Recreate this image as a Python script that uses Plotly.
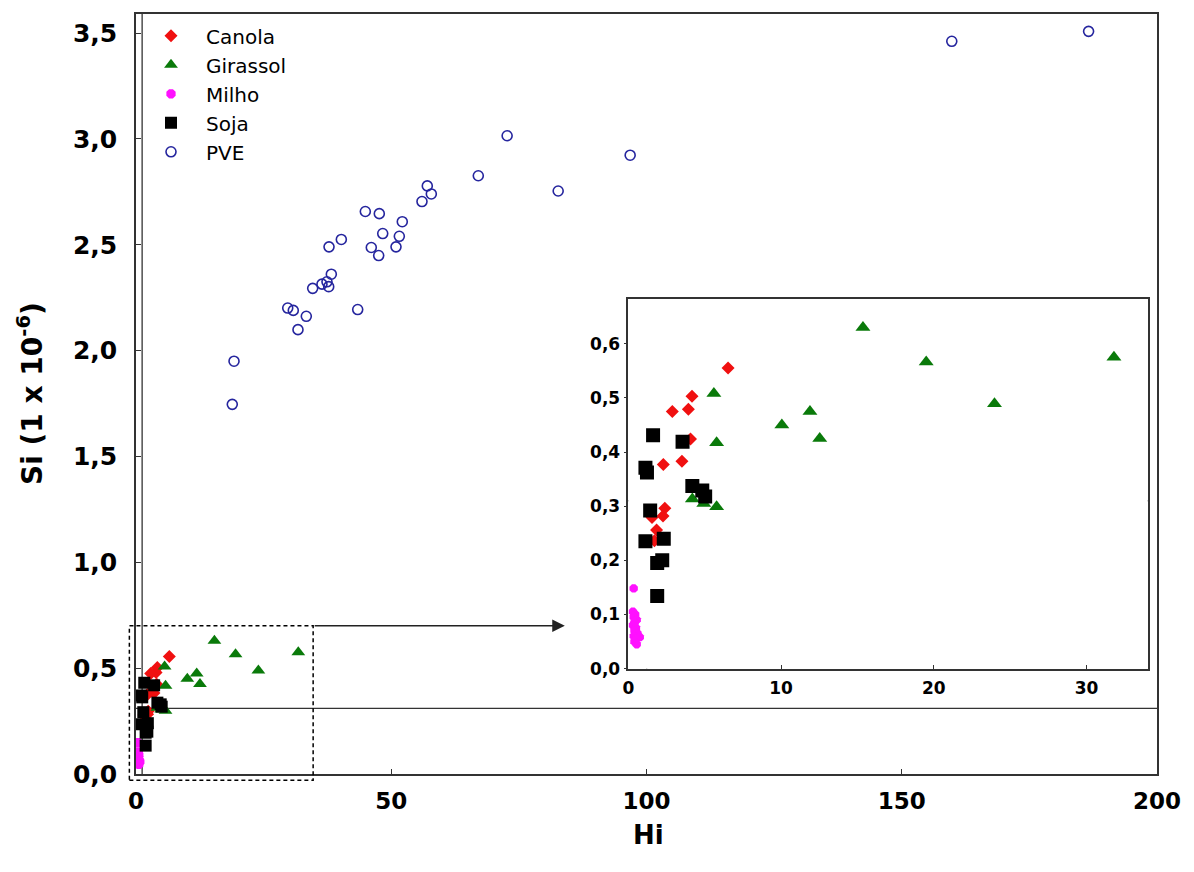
import plotly.graph_objects as go

# ---------------- data ----------------
canola_hi = [6.53, 4.17, 3.93, 2.88, 4.07, 3.51, 2.29, 2.39, 2.27, 1.55, 1.85, 1.71]
canola_si = [0.555, 0.503, 0.479, 0.475, 0.424, 0.383, 0.377, 0.296, 0.282, 0.279, 0.256, 0.236]

girassol_hi = [15.36, 19.50, 31.79, 23.97, 5.60, 11.89, 10.05, 12.53, 5.78, 4.19, 4.94, 5.78]
girassol_si = [0.630, 0.566, 0.575, 0.489, 0.508, 0.475, 0.450, 0.425, 0.417, 0.313, 0.305, 0.299]

milho_hi = [0.35, 0.30, 0.45, 0.35, 0.55, 0.40, 0.30, 0.50, 0.40, 0.60, 0.35, 0.75, 0.50, 0.40, 0.55]
milho_si = [0.148, 0.105, 0.100, 0.095, 0.090, 0.085, 0.080, 0.075, 0.070, 0.065, 0.060, 0.058, 0.055, 0.050, 0.045]

soja_hi = [1.62, 3.55, 1.12, 1.22, 4.19, 4.84, 5.03, 1.43, 1.12, 2.32, 1.89, 2.22, 1.89]
soja_si = [0.431, 0.419, 0.371, 0.362, 0.337, 0.329, 0.318, 0.292, 0.235, 0.240, 0.195, 0.200, 0.134]

pve_hi = [72.7, 67.05, 57.06, 57.85, 56.02, 44.92, 47.66, 52.16, 48.33, 51.58, 40.22, 37.81,
          50.93, 46.09, 47.54, 38.26, 37.41, 36.43, 37.75, 34.61, 29.72, 30.81, 33.36, 43.43,
          31.73, 19.20, 18.86, 96.8, 82.7, 159.8, 186.6]
pve_si = [3.015, 2.826, 2.778, 2.740, 2.704, 2.657, 2.647, 2.609, 2.553, 2.540, 2.525, 2.490,
          2.490, 2.487, 2.449, 2.361, 2.325, 2.314, 2.302, 2.294, 2.201, 2.190, 2.162, 2.194,
          2.099, 1.950, 1.746, 2.923, 2.754, 3.461, 3.508]

HI_REF = 1.2      # vertical reference line
SI_REF = 0.31     # horizontal reference line

MAIN_X = [0, 200]
MAIN_Y = [0, 3.59]
INSET_X = [0, 34]
INSET_Y = [0, 0.683]
ZOOM_BOX_X = [-1.3, 34.7]
ZOOM_BOX_Y = [-0.03, 0.70]
ARROW_END_X = 84

main_xticks = [0, 50, 100, 150, 200]
main_yticks = [0, 0.5, 1.0, 1.5, 2.0, 2.5, 3.0, 3.5]
inset_xticks = [0, 10, 20, 30]
inset_yticks = [0, 0.1, 0.2, 0.3, 0.4, 0.5, 0.6]

# ---------------- style ----------------
FONT = "DejaVu Sans"
RED = "#f01010"
GREEN = "#0a7a0a"
MAG = "#ff10ff"
BLACK = "#000000"
BLUE = "#25259e"
AX = "#333333"

series = [
    ("Canola", canola_hi, canola_si, dict(symbol="diamond", color=RED, size=10), dict(size=10)),
    ("Girassol", girassol_hi, girassol_si, dict(symbol="triangle-up", color=GREEN, size=12), dict(size=13)),
    ("Milho", milho_hi, milho_si, dict(symbol="octagon", color=MAG, size=10), dict(size=9)),
    ("Soja", soja_hi, soja_si, dict(symbol="square", color=BLACK, size=12), dict(size=14)),
]

fig = go.Figure()
for name, xs, ys, mk, mk_in in series:
    fig.add_trace(go.Scatter(x=xs, y=ys, mode="markers", name=name,
                             marker=dict(symbol=mk["symbol"], color=mk["color"], size=mk["size"], line=dict(width=0)),
                             xaxis="x", yaxis="y"))
fig.add_trace(go.Scatter(x=pve_hi, y=pve_si, mode="markers", name="PVE",
                         marker=dict(symbol="circle-open", color=BLUE, size=10, line=dict(width=1.6, color=BLUE)),
                         xaxis="x", yaxis="y"))
for name, xs, ys, mk, mk_in in series:
    fig.add_trace(go.Scatter(x=xs, y=ys, mode="markers", name=name, showlegend=False,
                             marker=dict(symbol=mk["symbol"], color=mk["color"], size=mk_in["size"], line=dict(width=0)),
                             xaxis="x2", yaxis="y2"))

axis_common = dict(showgrid=False, zeroline=False, showline=True, mirror=True,
                   linecolor=AX, linewidth=1.5, tickcolor=AX)

fig.update_layout(
    width=1194, height=872,
    margin=dict(l=136, r=37, t=12, b=98),
    paper_bgcolor="white", plot_bgcolor="white",
    separators=",.",
    font=dict(family=FONT, color="black"),
    xaxis=dict(range=MAIN_X, tickvals=main_xticks, ticks="inside", ticklen=5, domain=[0, 1],
               ticklabelstandoff=6,
               tickfont=dict(family=FONT, size=23, weight="bold"), anchor="y", **axis_common),
    yaxis=dict(range=MAIN_Y, tickvals=main_yticks, tickformat=".1f", ticks="inside", ticklen=5,
               domain=[0, 1], ticklabelstandoff=12,
               tickfont=dict(family=FONT, size=25, weight="bold"), anchor="x", **axis_common),
    xaxis2=dict(range=INSET_X, tickvals=inset_xticks, ticks="inside", ticklen=4,
                domain=[0.4822, 0.9909], anchor="y2", ticklabelstandoff=3,
                tickfont=dict(family=FONT, size=17, weight="bold"), **axis_common),
    yaxis2=dict(range=INSET_Y, tickvals=inset_yticks, tickformat=".1f", ticks="outside", ticklen=3,
                domain=[0.1387, 0.6253], anchor="x2",
                tickfont=dict(family=FONT, size=17, weight="bold"), **axis_common),
    legend=dict(x=0.0, y=0.997, xanchor="left", yanchor="top", bgcolor="rgba(0,0,0,0)",
                font=dict(family=FONT, size=20, color="black"), itemwidth=60,
                tracegroupgap=0),
    showlegend=True,
)

# reference lines (main + inset)
line_style = dict(color=AX, width=1.3)
fig.add_shape(type="line", xref="x", yref="y domain", x0=HI_REF, x1=HI_REF, y0=0, y1=1, line=line_style, layer="below")
fig.add_shape(type="line", xref="x domain", yref="y", x0=0, x1=1, y0=SI_REF, y1=SI_REF, line=line_style, layer="below")
fig.add_shape(type="line", xref="x2", yref="y2 domain", x0=HI_REF, x1=HI_REF, y0=0, y1=1, line=line_style, layer="below")
fig.add_shape(type="line", xref="x2 domain", yref="y2", x0=0, x1=1, y0=SI_REF, y1=SI_REF, line=line_style, layer="below")

# dashed zoom box (converted from main-axis data coords to paper)
def px(v):
    return (v - MAIN_X[0]) / (MAIN_X[1] - MAIN_X[0])
def py(v):
    return (v - MAIN_Y[0]) / (MAIN_Y[1] - MAIN_Y[0])
fig.add_shape(type="rect", xref="paper", yref="paper",
              x0=px(ZOOM_BOX_X[0]), x1=px(ZOOM_BOX_X[1]), y0=py(ZOOM_BOX_Y[0]), y1=py(ZOOM_BOX_Y[1]),
              line=dict(color="black", width=1.5, dash="4px,3px"), fillcolor="rgba(0,0,0,0)")

# arrow from zoom box to inset
fig.add_annotation(x=ARROW_END_X, y=ZOOM_BOX_Y[1], ax=ZOOM_BOX_X[1], ay=ZOOM_BOX_Y[1],
                   xref="x", yref="y", axref="x", ayref="y", text="", showarrow=True,
                   arrowhead=2, arrowsize=1.8, arrowwidth=1.4, arrowcolor="#222222")

# axis titles
fig.add_annotation(text="Si (1 x 10<sup>-6</sup>)", xref="paper", yref="paper", x=-0.1038, y=0.5,
                   textangle=-90, showarrow=False, xanchor="center", yanchor="middle",
                   font=dict(family=FONT, size=28, weight="bold", color="black"))
fig.add_annotation(text="Hi", xref="paper", yref="paper", x=0.5015, y=-0.0800,
                   showarrow=False, xanchor="center", yanchor="middle",
                   font=dict(family=FONT, size=26, weight="bold", color="black"))

fig.write_html("out.html")
